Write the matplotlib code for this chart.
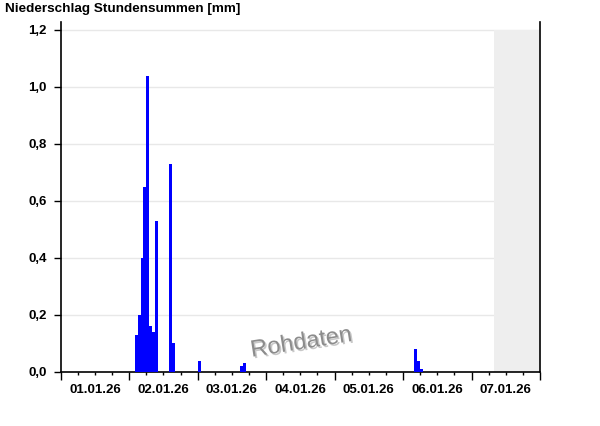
import matplotlib
matplotlib.use("Agg")
import matplotlib.pyplot as plt
import matplotlib.patheffects as pe
import pandas as pd

plt.rcParams['font.family'] = ['Liberation Sans', 'DejaVu Sans']

# ---- data ----
start = "2026-01-01 00:00"
end = "2026-01-08 00:00"
day_labels = ["01.01.26", "02.01.26", "03.01.26", "04.01.26", "05.01.26", "06.01.26", "07.01.26"]
bar_times = [
    "2026-01-02 02:00", "2026-01-02 03:00", "2026-01-02 04:00", "2026-01-02 05:00",
    "2026-01-02 06:00", "2026-01-02 07:00", "2026-01-02 08:00", "2026-01-02 09:00",
    "2026-01-02 14:00", "2026-01-02 15:00",
    "2026-01-03 00:00",
    "2026-01-03 15:00", "2026-01-03 16:00",
    "2026-01-06 04:00", "2026-01-06 05:00", "2026-01-06 06:00",
]
bar_values = [0.13, 0.20, 0.40, 0.65, 1.04, 0.16, 0.14, 0.53,
              0.73, 0.10,
              0.04,
              0.02, 0.03,
              0.08, 0.04, 0.01]
future_start = "2026-01-07 08:00"
y_ticks = [0.0, 0.2, 0.4, 0.6, 0.8, 1.0, 1.2]
y_tick_labels = ["0,0", "0,2", "0,4", "0,6", "0,8", "1,0", "1,2"]

t0 = pd.Timestamp(start)
def hrs(s):
    return (pd.Timestamp(s) - t0) / pd.Timedelta(hours=1)

x = [hrs(t) for t in bar_times]
x_end = hrs(end)

fig = plt.figure(figsize=(6.0, 4.26), dpi=100)
ax = fig.add_axes([0.1012, 0.1268, 0.9 - 0.1012, 0.9484 - 0.1268])

ax.set_xlim(0, x_end)
ax.set_ylim(0, 1.228)

# grid
for yt in y_ticks[1:]:
    ax.axhline(yt, color='#e8e8e8', lw=1.0, zorder=0)

# future shading
ax.fill_between([hrs(future_start), x_end], 0, 1.2, color='#eeeeee', lw=0, zorder=1)

ax.bar(x, bar_values, width=1.0, align='edge', color='#0000ff', lw=0, zorder=3)

# spines
ax.spines['top'].set_visible(False)
for s in ['left', 'right', 'bottom']:
    ax.spines[s].set_color('black')
    ax.spines[s].set_linewidth(1.2)

# ticks
ax.set_yticks(y_ticks)
ax.set_yticklabels(y_tick_labels, fontsize=9.5, fontweight='bold')
ax.tick_params(axis='y', direction='out', length=5, width=1, pad=5)

ax.set_xticks([24 * i for i in range(len(day_labels) + 1)])
ax.set_xticks([6 * i for i in range(int(x_end // 6) + 1) if i % 4], minor=True)
ax.set_xticklabels([])
ax.tick_params(axis='x', which='major', direction='out', length=6, width=1)
ax.tick_params(axis='x', which='minor', direction='out', length=2.5, width=1)

for i, lab in enumerate(day_labels):
    ax.text(24 * i + 12, -0.063, lab, ha='center', va='center', fontsize=9.5,
            fontweight='bold', transform=ax.transData, clip_on=False)

fig.text(0.008, 0.978, "Niederschlag Stundensummen [mm]", ha='left', va='center',
         fontsize=9.7, fontweight='bold')

# watermark
ax.text(0.502, 0.083, "Rohdaten", transform=ax.transAxes, ha='center', va='center',
        fontsize=17, color='#8c8c8c', rotation=9, zorder=2,
        path_effects=[pe.withSimplePatchShadow(offset=(1.2, -1.2),
                                               shadow_rgbFace='#c8c8c8', alpha=1.0)])

fig.savefig("out.png", dpi=100)
